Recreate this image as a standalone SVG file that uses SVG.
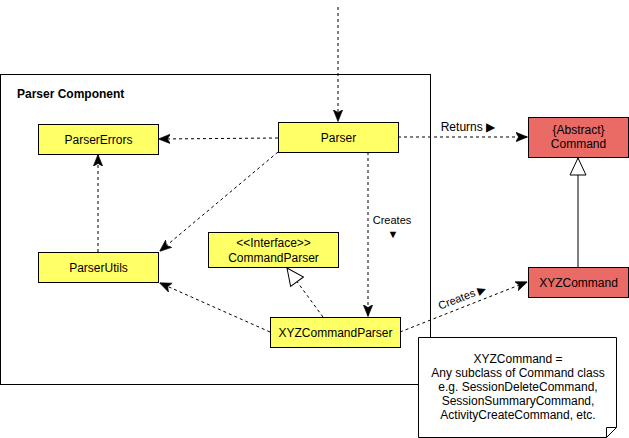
<svg xmlns="http://www.w3.org/2000/svg" width="629" height="438" viewBox="0 0 629 438">
<style>
text{font-family:"Liberation Sans",Arial,"DejaVu Sans",sans-serif;font-size:12px;fill:#000;text-anchor:middle}
.y{fill:#FFFF66;stroke:#000;stroke-width:1}
.r{fill:#EA6B66;stroke:#000;stroke-width:1}
.d{fill:none;stroke:#000;stroke-width:1;stroke-dasharray:3,3}
.s{fill:none;stroke:#000;stroke-width:1}
.l{font-size:11px}
</style>
<defs>
<marker id="a" markerUnits="userSpaceOnUse" markerWidth="12" markerHeight="12" viewBox="0 0 10 10" refX="9.5" refY="5" orient="auto">
<path d="M0,1 L10,5 L0,9 L2.5,5 z" fill="#000" stroke="#000" stroke-width="0.5"/>
</marker>
<marker id="t" markerUnits="userSpaceOnUse" markerWidth="20" markerHeight="20" viewBox="0 0 20 20" refX="18" refY="10" orient="auto">
<path d="M1,2 L18,10 L1,18 z" fill="#fff" stroke="#000" stroke-width="1"/>
</marker>
</defs>
<rect x="0.5" y="74.5" width="430" height="310" fill="#fff" stroke="#000"/>
<text x="17" y="98" text-anchor="start" style="font-weight:bold;text-anchor:start">Parser Component</text>
<g id="connectors">
<line class="d" x1="338" y1="7" x2="338" y2="121" marker-end="url(#a)"/>
<line class="d" x1="278" y1="138" x2="159" y2="139" marker-end="url(#a)"/>
<line class="d" x1="278" y1="152" x2="160" y2="251" marker-end="url(#a)"/>
<line class="d" x1="98" y1="252" x2="98" y2="155" marker-end="url(#a)"/>
<line class="d" x1="398" y1="137" x2="527" y2="137" marker-end="url(#a)"/>
<text x="468" y="131">Returns ▶</text>
<line class="d" x1="368" y1="152" x2="368" y2="316" marker-end="url(#a)"/>
<text class="l" x="392" y="224">Creates</text>
<text class="l" x="393" y="238">▼</text>
<line class="d" x1="270" y1="332" x2="160" y2="283" marker-end="url(#a)"/>
<line class="d" x1="323" y1="317" x2="287" y2="268" marker-end="url(#t)"/>
<line class="d" x1="400" y1="332" x2="527" y2="282" marker-end="url(#a)"/>
<text class="l" x="462" y="301" transform="rotate(-21 462 297)">Creates ▶</text>
<line class="s" x1="578" y1="267" x2="578" y2="158" marker-end="url(#t)"/>
</g>
<g id="ParserErrors"><rect class="y" x="38.5" y="124.5" width="120" height="30"/><text x="98.5" y="143.5">ParserErrors</text></g>
<g id="Parser"><rect class="y" x="278.5" y="122.5" width="120" height="30"/><text x="338.5" y="141.5">Parser</text></g>
<g id="ParserUtils"><rect class="y" x="38.5" y="252.5" width="120" height="30"/><text x="98.5" y="271.5">ParserUtils</text></g>
<g id="CommandParser"><rect class="y" x="208.5" y="232.5" width="130" height="35"/><text x="273.5" y="247">&lt;&lt;Interface&gt;&gt;</text><text x="273.5" y="262">CommandParser</text></g>
<g id="XYZCommandParser"><rect class="y" x="270.5" y="317.5" width="130" height="30"/><text x="335.5" y="336.5">XYZCommandParser</text></g>
<g id="Command"><rect class="r" x="528.5" y="117.5" width="100" height="40"/><text x="578.5" y="134">{Abstract}</text><text x="578.5" y="148">Command</text></g>
<g id="XYZCommand"><rect class="r" x="528.5" y="267.5" width="100" height="30"/><text x="578.5" y="286.5">XYZCommand</text></g>
<g id="Note"><path d="M418.5,337.5 H616.5 V427.5 L606.5,437.5 H418.5 Z" fill="#fff" stroke="#000"/><path d="M606.5,437.5 V427.5 H616.5" fill="none" stroke="#000"/>
<text x="518" y="363">XYZCommand =</text>
<text x="518" y="377">Any subclass of Command class</text>
<text x="518" y="391">e.g. SessionDeleteCommand,</text>
<text x="518" y="405">SessionSummaryCommand,</text>
<text x="518" y="419">ActivityCreateCommand, etc.</text>
</g>
</svg>
